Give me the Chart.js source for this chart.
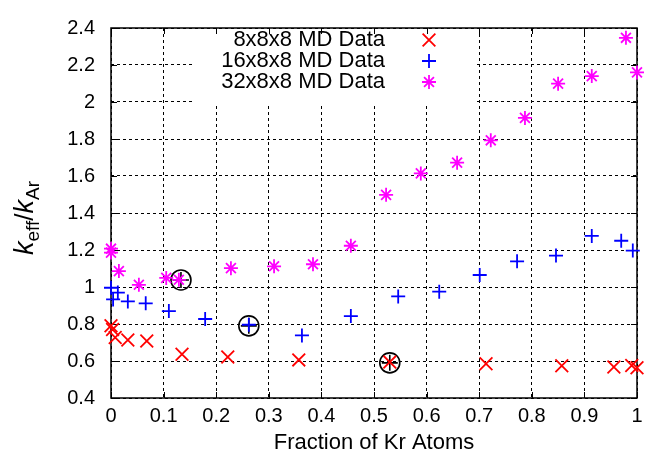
<!DOCTYPE html>
<html>
<head>
<meta charset="utf-8">
<script src="https://cdn.jsdelivr.net/npm/chart.js@4/dist/chart.umd.min.js"></script>
<style>
  html, body { margin: 0; padding: 0; background: #fff; }
  #wrap { width: 649px; height: 460px; }
</style>
</head>
<body>
<div id="wrap"><canvas id="plot" width="649" height="460"></canvas></div>
<script>
// values
var x8 = [0, 0.003, 0.008, 0.032, 0.068, 0.135, 0.222, 0.357, 0.53, 0.713, 0.857, 0.956, 0.99, 1.0];
var y8 = [0.79, 0.77, 0.727, 0.714, 0.708, 0.637, 0.622, 0.606, 0.594, 0.585, 0.574, 0.568, 0.576, 0.564];

var x16 = [0, 0.013, 0.004, 0.032, 0.066, 0.11, 0.179, 0.262, 0.363, 0.456, 0.546, 0.624, 0.701, 0.772, 0.846, 0.914, 0.97, 0.992];
var y16 = [0.996, 0.97, 0.933, 0.922, 0.912, 0.87, 0.827, 0.796, 0.738, 0.843, 0.949, 0.975, 1.065, 1.139, 1.17, 1.276, 1.25, 1.197];

var x32 = [0, 0, 0.015, 0.053, 0.105, 0.129, 0.228, 0.31, 0.384, 0.456, 0.523, 0.589, 0.658, 0.722, 0.787, 0.85, 0.914, 0.979, 1.0];
var y32 = [1.207, 1.186, 1.086, 1.012, 1.049, 1.039, 1.102, 1.112, 1.123, 1.223, 1.498, 1.614, 1.672, 1.793, 1.914, 2.099, 2.14, 2.347, 2.16];

// circled points
var xMark = [0.133, 0.262, 0.530];
var yMark = [1.038, 0.79, 0.59];

var seriesNames = ["8x8x8 MD Data", "16x8x8 MD Data", "32x8x8 MD Data"];
var seriesColors = ["#ff0000", "#0000ff", "#ff00ff"];
var seriesStyles = ["crossRot", "cross", "star"];
var sizes = [9, 7, 7];

var FONT = "'Liberation Sans', Arial, Helvetica, sans-serif";

function pts(xs, ys) {
    var out = [];
    for (var i = 0; i < xs.length; i++) out.push({x: xs[i], y: ys[i]});
    return out;
}

function fmt(v) {
    return String(parseFloat(Number(v).toFixed(1)));
}

var datasets = [];
for (var i = 0; i < 3; i++) {
    datasets.push({
        label: seriesNames[i],
        data: pts([x8, x16, x32][i], [y8, y16, y32][i]),
        pointStyle: seriesStyles[i],
        pointRadius: sizes[i],
        pointBorderWidth: 1.8,
        borderColor: seriesColors[i],
        backgroundColor: seriesColors[i],
        showLine: false,
        clip: false
    });
}
datasets.push({
    label: "plus",
    data: pts(xMark, yMark),
    pointStyle: "cross",
    pointRadius: 8,
    pointBorderWidth: 1.6,
    borderColor: "#000",
    backgroundColor: "#000",
    showLine: false,
    clip: false
});
datasets.push({
    label: "circle",
    data: pts(xMark, yMark),
    pointStyle: "circle",
    pointRadius: 10,
    pointBorderWidth: 1.6,
    borderColor: "#000",
    backgroundColor: "rgba(0,0,0,0)",
    showLine: false,
    clip: false
});

var framePlugin = {
    id: "frame",
    beforeDatasetsDraw: function (chart) {
        var ctx = chart.ctx;
        var a = chart.chartArea;
        var xs = chart.scales.x, ys = chart.scales.y;
        ctx.save();
        // legend box hides the grid
        ctx.fillStyle = "#fff";
        ctx.fillRect(193, a.top + 1, 281, 74);
        // inward ticks on all sides
        ctx.strokeStyle = "#000";
        ctx.lineWidth = 1;
        ctx.beginPath();
        xs.ticks.forEach(function (t) {
            var px = Math.round(xs.getPixelForValue(t.value)) + 0.5;
            ctx.moveTo(px, a.bottom); ctx.lineTo(px, a.bottom - 6);
            ctx.moveTo(px, a.top); ctx.lineTo(px, a.top + 6);
        });
        ys.ticks.forEach(function (t) {
            var py = Math.round(ys.getPixelForValue(t.value)) + 0.5;
            ctx.moveTo(a.left, py); ctx.lineTo(a.left + 6, py);
            ctx.moveTo(a.right, py); ctx.lineTo(a.right - 6, py);
        });
        ctx.stroke();
        // frame
        ctx.lineWidth = 1.5;
        ctx.strokeRect(a.left, a.top, a.right - a.left, a.bottom - a.top);
        // legend
        ctx.font = "22px " + FONT;
        ctx.textAlign = "right";
        ctx.textBaseline = "middle";
        ctx.fillStyle = "#000";
        for (var i = 0; i < 3; i++) {
            var ly = 40 + i * 21;
            ctx.fillText(seriesNames[i], 385, ly);
            ctx.strokeStyle = seriesColors[i];
            ctx.fillStyle = seriesColors[i];
            ctx.lineWidth = 1.8;
            Chart.helpers.drawPoint(ctx, {pointStyle: seriesStyles[i], radius: sizes[i], borderWidth: 1.8, rotation: 0}, 429, ly);
            ctx.fillStyle = "#000";
        }
        // y axis title: k_eff / k_Ar
        ctx.translate(25, 218);
        ctx.rotate(-Math.PI / 2);
        ctx.textAlign = "left";
        ctx.textBaseline = "alphabetic";
        var parts = [
            {t: "k", f: "italic 27px " + FONT, dy: 0},
            {t: "eff", f: "19px " + FONT, dy: 6},
            {t: "/", f: "26px " + FONT, dy: 0},
            {t: "k", f: "italic 27px " + FONT, dy: 0},
            {t: "Ar", f: "19px " + FONT, dy: 6}
        ];
        var total = 0;
        parts.forEach(function (p) { ctx.font = p.f; p.w = ctx.measureText(p.t).width; total += p.w; });
        var cx = -total / 2;
        parts.forEach(function (p) {
            ctx.font = p.f;
            ctx.fillText(p.t, cx, 8 + p.dy);
            cx += p.w;
        });
        ctx.restore();
    }
};

new Chart(document.getElementById("plot"), {
    type: "scatter",
    data: { datasets: datasets },
    plugins: [framePlugin],
    options: {
        responsive: false,
        animation: false,
        devicePixelRatio: 1,
        layout: { padding: { top: 19, right: 12, left: 0, bottom: 0 } },
        plugins: { legend: { display: false }, tooltip: { enabled: false } },
        scales: {
            x: {
                type: "linear",
                min: 0, max: 1,
                afterFit: function (s) { s.height = 62; },
                ticks: { stepSize: 0.1, padding: 6, color: "#000", font: { family: FONT, size: 20 }, callback: fmt, maxRotation: 0, autoSkip: false },
                grid: { color: "#000", lineWidth: 1, drawTicks: false, borderDash: [3, 3] },
                border: { display: false, dash: [3, 3] },
                title: { display: true, text: "Fraction of Kr Atoms", color: "#000", font: { family: FONT, size: 22 }, padding: { top: 0, bottom: 4 } }
            },
            y: {
                type: "linear",
                min: 0.4, max: 2.4,
                afterFit: function (s) { s.width = 111; },
                ticks: { stepSize: 0.2, padding: 16, color: "#000", font: { family: FONT, size: 20 }, callback: fmt, autoSkip: false },
                grid: { color: "#000", lineWidth: 1, drawTicks: false, borderDash: [3, 3] },
                border: { display: false, dash: [3, 3] }
            }
        }
    }
});
</script>
</body>
</html>
